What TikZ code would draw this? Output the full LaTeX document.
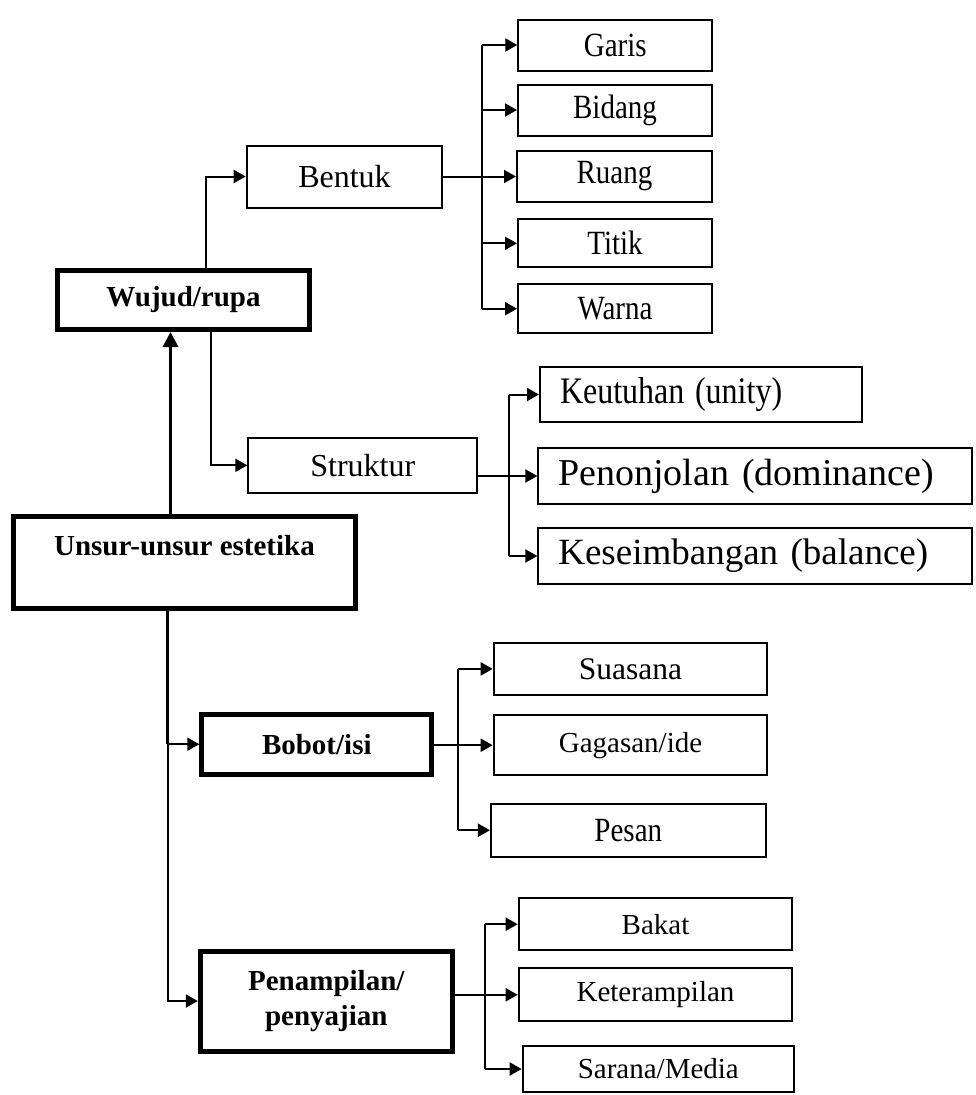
\documentclass[tikz,border=0pt]{standalone}
\usepackage{fontspec}
\usepackage{graphicx}
\setmainfont{Liberation Serif}
\usetikzlibrary{arrows.meta}
\newcommand{\vstretch}[1]{\scalebox{1}[1.17]{#1}}
\tikzset{
  thinbox/.style={draw, line width=2pt, inner sep=0pt, font=\fontsize{29}{32}\selectfont},
  thickbox/.style={draw, line width=5pt, inner sep=0pt, font=\bfseries\fontsize{29}{35}\selectfont, align=center},
  leftbox/.style={draw, line width=2pt, inner xsep=20pt, inner ysep=0pt, align=left},
  conn/.style={line width=2pt},
  arr/.style={line width=2pt, -{Triangle[length=12pt,width=13pt]}},
  bigarr/.style={line width=3.5pt, -{Triangle[length=15pt,width=15pt]}}
}
\begin{document}
\begin{tikzpicture}[x=1pt,y=-1pt]
\useasboundingbox (0,0) rectangle (975,1095);
% main nodes
\node[thickbox, minimum width=252pt, minimum height=59pt] (wujud) at (183.5,300) {Wujud/rupa};
\node[thickbox, minimum width=342pt, minimum height=92pt] (unsur) at (184.5,562) {};
\node[font=\bfseries\fontsize{29}{32}\selectfont, inner sep=0pt] (unsurtext) at (184.5,546) {Unsur-unsur estetika};
\node[thickbox, minimum width=230pt, minimum height=60pt] (bobot) at (316.8,744.2) {Bobot/isi};
\node[thickbox, minimum width=252pt, minimum height=100pt] (penampilan) at (326.3,1001) {Penampilan/\\penyajian};
% second level
\node[thinbox, minimum width=195.6pt, minimum height=62pt, font=\fontsize{32}{34}\selectfont] (bentuk) at (344.5,176.5) {Bentuk};
\node[thinbox, minimum width=229pt, minimum height=55pt, font=\fontsize{32}{34}\selectfont] (struktur) at (362.8,465.3) {Struktur};
% Bentuk leaves
\node[thinbox, minimum width=194pt, minimum height=51pt] (garis) at (615.3,45) {\vstretch{Garis}};
\node[thinbox, minimum width=194pt, minimum height=51pt] (bidang) at (615,110) {\vstretch{Bidang}};
\node[thinbox, minimum width=195pt, minimum height=51pt] (ruang) at (614.5,176.5) {\vstretch{Ruang}};
\node[thinbox, minimum width=194pt, minimum height=48pt] (titik) at (615,243.3) {\vstretch{Titik}};
\node[thinbox, minimum width=194pt, minimum height=49pt] (warna) at (615,308.7) {\vstretch{Warna}};
% Struktur leaves
\node[leftbox, text width=282pt, minimum height=55.6pt, font=\fontsize{32}{34}\selectfont] (keutuhan) at (701,394.5) {\vstretch{Keutuhan (unity)}};
\node[leftbox, text width=393.7pt, minimum height=56.3pt, font=\fontsize{38}{40}\selectfont] (penonjolan) at (755.2,476) {Penonjolan (dominance)};
\node[leftbox, text width=393.7pt, minimum height=56.3pt, font=\fontsize{37}{40}\selectfont] (keseimbangan) at (755.2,556) {Keseimbangan (balance)};
% Bobot leaves
\node[thinbox, minimum width=273.6pt, minimum height=52.3pt, font=\fontsize{31.5}{34}\selectfont] (suasana) at (630.5,668.9) {Suasana};
\node[thinbox, minimum width=273.6pt, minimum height=59.7pt] (gagasan) at (630.5,745.2) {Gagasan/ide};
\node[thinbox, minimum width=274.7pt, minimum height=53pt] (pesan) at (628.3,830.2) {\vstretch{Pesan}};
% Penampilan leaves
\node[thinbox, minimum width=273.6pt, minimum height=51.7pt] (bakat) at (655.5,924.2) {Bakat};
\node[thinbox, minimum width=273.6pt, minimum height=53pt] (keterampilan) at (655.5,994.8) {Keterampilan};
\node[thinbox, minimum width=271.3pt, minimum height=46pt] (sarana) at (658.3,1069) {Sarana/Media};
% trunk coordinates
\coordinate (tb) at (482.3,0);
\coordinate (ts) at (509.3,0);
\coordinate (tbo) at (458.3,0);
\coordinate (tp) at (485,0);
% Unsur -> Wujud
\draw[bigarr] ([xshift=-14pt]unsur.north) -- ([xshift=-14pt]unsur.north |- wujud.south);
% Wujud -> Bentuk, Struktur
\draw[arr] ([xshift=22pt]wujud.north) |- (bentuk.west);
\draw[arr] ([xshift=27pt]wujud.south) |- (struktur.west);
% Unsur -> Bobot, Penampilan
\draw[line width=3pt] ([xshift=-17pt]unsur.south) -- ([xshift=-17pt]unsur.south |- bobot.west);
\draw[arr] ([xshift=-17pt]unsur.south |- bobot.west) -- (bobot.west);
\draw[arr] ([xshift=-17pt]unsur.south |- bobot.west) |- (penampilan.west);
% Bentuk tree
\draw[conn] (bentuk.east) -- (tb |- bentuk.east);
\draw[conn] (tb |- garis.west) -- (tb |- warna.west);
\draw[arr] (tb |- garis.west) -- (garis.west);
\draw[arr] (tb |- bidang.west) -- (bidang.west);
\draw[arr] (tb |- ruang.west) -- (ruang.west);
\draw[arr] (tb |- titik.west) -- (titik.west);
\draw[arr] (tb |- warna.west) -- (warna.west);
% Struktur tree
\draw[conn] (struktur.east |- penonjolan.west) -- (ts |- penonjolan.west);
\draw[conn] (ts |- keutuhan.west) -- (ts |- keseimbangan.west);
\draw[arr] (ts |- keutuhan.west) -- (keutuhan.west);
\draw[arr] (ts |- penonjolan.west) -- (penonjolan.west);
\draw[arr] (ts |- keseimbangan.west) -- (keseimbangan.west);
% Bobot tree
\draw[conn] (bobot.east |- gagasan.west) -- (tbo |- gagasan.west);
\draw[conn] (tbo |- suasana.west) -- (tbo |- pesan.west);
\draw[arr] (tbo |- suasana.west) -- (suasana.west);
\draw[arr] (tbo |- gagasan.west) -- (gagasan.west);
\draw[arr] (tbo |- pesan.west) -- (pesan.west);
% Penampilan tree
\draw[conn] (penampilan.east |- keterampilan.west) -- (tp |- keterampilan.west);
\draw[conn] (tp |- bakat.west) -- (tp |- sarana.west);
\draw[arr] (tp |- bakat.west) -- (bakat.west);
\draw[arr] (tp |- keterampilan.west) -- (keterampilan.west);
\draw[arr] (tp |- sarana.west) -- (sarana.west);
\end{tikzpicture}
\end{document}
